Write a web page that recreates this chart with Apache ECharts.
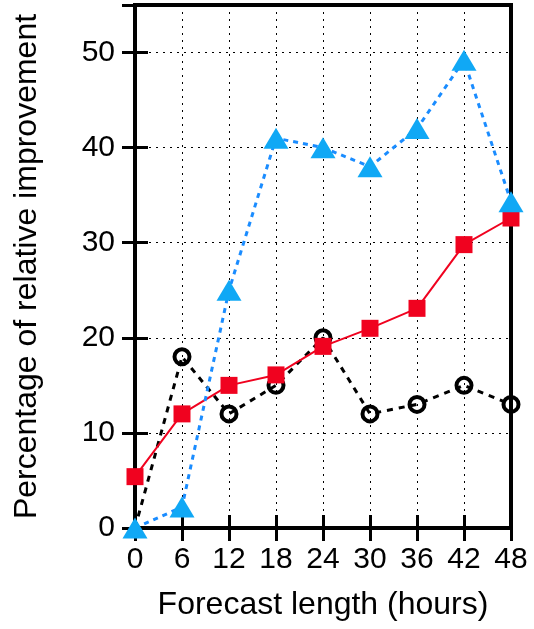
<!DOCTYPE html>
<html>
<head>
<meta charset="utf-8">
<script src="https://cdn.jsdelivr.net/npm/echarts@6/dist/echarts.min.js"></script>
<style>
html,body{margin:0;padding:0;background:#fff;}
#chart{width:534px;height:629px;}
</style>
</head>
<body>
<div id="chart"></div>
<script>
const hours = [0, 6, 12, 18, 24, 30, 36, 42, 48];
const seriesBlack = [0, 18, 12, 15, 20, 12, 13, 15, 13];
const seriesRed = [5.4, 12, 15, 16.1, 19.1, 21, 23.1, 29.8, 32.6];
const seriesBlue = [0, 2.2, 25, 41, 40, 38, 42, 49.2, 34.3];
const xTitle = 'Forecast length (hours)';
const yTitle = 'Percentage of relative improvement';

const FONT = 'Liberation Sans';
const pairs = (ys, skipFirstSymbol) => hours.map((h, i) => {
  if (skipFirstSymbol && i === 0) return {value: [h, ys[i]], symbol: 'none'};
  return [h, ys[i]];
});

const chart = echarts.init(document.getElementById('chart'), null, {renderer: 'canvas'});
const tickStyle = {show: true, inside: true, length: 13, lineStyle: {color: '#000', width: 3}};
chart.setOption({
  animation: false,
  backgroundColor: '#fff',
  grid: {left: 135, right: 23, top: 5, bottom: 101, show: true, borderColor: '#000', borderWidth: 4, backgroundColor: 'transparent'},
  xAxis: [{
    type: 'value', min: 0, max: 48, interval: 6, position: 'bottom',
    name: xTitle, nameLocation: 'middle', nameGap: 61,
    nameTextStyle: {fontFamily: FONT, fontSize: 32, color: '#000'},
    axisLine: {show: true, onZero: false, lineStyle: {color: '#000', width: 4}},
    axisTick: tickStyle,
    axisLabel: {fontFamily: FONT, fontSize: 30, color: '#000', margin: 17},
    splitLine: {show: true, lineStyle: {color: '#000', width: 1, type: [2, 5]}}
  }, {
    type: 'value', min: 0, max: 48, interval: 6, position: 'top',
    axisLine: {show: true, lineStyle: {color: '#000', width: 4}},
    axisTick: tickStyle, axisLabel: {show: false}, splitLine: {show: false}
  }],
  yAxis: [{
    type: 'value', min: 0, max: 55, interval: 10, position: 'left',
    name: yTitle, nameLocation: 'middle', nameGap: 92,
    nameTextStyle: {fontFamily: FONT, fontSize: 32, color: '#000'},
    axisLine: {show: true, onZero: false, lineStyle: {color: '#000', width: 4}},
    axisTick: tickStyle,
    axisLabel: {fontFamily: FONT, fontSize: 30, color: '#000', margin: 20, showMaxLabel: false,
      formatter: v => (v % 10 === 0 ? String(v) : '')},
    splitLine: {show: true, lineStyle: {color: '#000', width: 1, type: [2, 5]}}
  }, {
    type: 'value', min: 0, max: 55, interval: 10, position: 'right',
    axisLine: {show: true, lineStyle: {color: '#000', width: 4}},
    axisTick: tickStyle, axisLabel: {show: false}, splitLine: {show: false}
  }],
  series: [{
    name: 'black', type: 'line', clip: false, data: pairs(seriesBlack, true),
    symbol: 'circle', symbolSize: 15,
    lineStyle: {color: '#000', width: 3, type: [6, 6]},
    itemStyle: {color: 'rgba(255,255,255,0)', borderColor: '#000', borderWidth: 4},
    z: 3
  }, {
    name: 'red', type: 'line', clip: false, data: pairs(seriesRed, false),
    symbol: 'rect', symbolSize: 17,
    lineStyle: {color: '#f0021f', width: 2},
    itemStyle: {color: '#f0021f', borderWidth: 0},
    z: 4
  }, {
    name: 'blue', type: 'line', clip: false, data: pairs(seriesBlue, false),
    symbol: 'triangle', symbolSize: [25, 21],
    lineStyle: {color: '#1a8cff', width: 3, type: [5, 5]},
    itemStyle: {color: '#10a8f5', borderWidth: 0},
    z: 5
  }]
});
</script>
</body>
</html>
